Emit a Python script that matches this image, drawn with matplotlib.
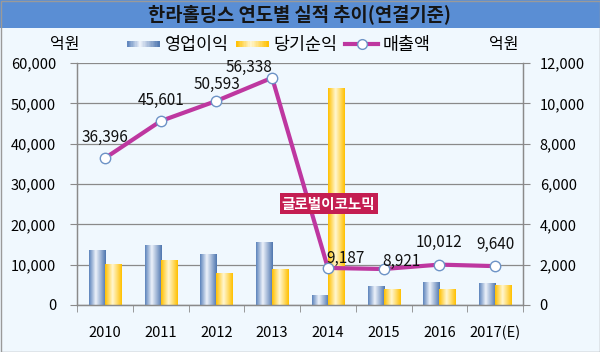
# plot.py
# 한라홀딩스 연도별 실적 추이 - bars (right axis) + sales line (left axis)

import numpy as np
import matplotlib.pyplot as plt
from matplotlib.colors import LinearSegmentedColormap
from matplotlib.patches import Rectangle
from matplotlib.legend_handler import HandlerBase
from matplotlib.lines import Line2D
from matplotlib.ticker import FuncFormatter

plt.rcParams['font.family'] = ['Noto Sans CJK KR', 'DejaVu Sans']

# data (억원)
years = ['2010', '2011', '2012', '2013', '2014', '2015', '2016', '2017(E)']
sales = [36396, 45601, 50593, 56338, 9187, 8921, 10012, 9640]
op_profit = [2730, 2980, 2530, 3120, 500, 940, 1160, 1090]
net_profit = [2030, 2230, 1600, 1790, 10750, 790, 790, 990]
labels_txt = ['36,396', '45,601', '50,593', '56,338', '9,187', '8,921', '10,012', '9,640']
# label offsets in pixels (dx, dy)
label_off = [(0, 21), (0, 21), (1, 16), (-23, 10), (18, 9), (18, 8), (0, 22), (0, 22)]

W, H = 600, 352
bg = '#F0F8FE'
grid_c = '#8A8A8A'

blue_cmap = LinearSegmentedColormap.from_list(
    'b', [(0, '#5D84BC'), (0.4, '#EDF2FA'), (1, '#4F77B0')])
yellow_cmap = LinearSegmentedColormap.from_list(
    'y', [(0, '#FFC000'), (0.45, '#FFF7D2'), (1, '#FFC000')])


class GradHandler(HandlerBase):
    def __init__(self, cmap):
        super().__init__()
        self.cmap = cmap

    def create_artists(self, legend, orig_handle, xdescent, ydescent,
                       width, height, fontsize, trans):
        n = 24
        h = height * 0.5
        y0 = -ydescent + (height - h) / 2
        arts = []
        for i in range(n):
            c = self.cmap((i + 0.5) / n)
            r = Rectangle((-xdescent + i * width / n, y0), width / n + 0.3, h,
                          facecolor=c, edgecolor='none', transform=trans)
            arts.append(r)
        return arts


fig = plt.figure(figsize=(W / 100, H / 100), dpi=100, facecolor=bg)

# header band
fig.add_artist(Rectangle((0, 1 - 28 / H), 1, 28 / H, transform=fig.transFigure,
                         facecolor='#5A8ED4', edgecolor='none', zorder=0))
fig.text(0.5, 1 - 14.5 / H, '한라홀딩스 연도별 실적 추이(연결기준)', ha='center', va='center',
         fontsize=13.5, fontweight='bold', color='#151515')
# outer border
fig.add_artist(Rectangle((0.5 / W, 0.5 / H), 1 - 1 / W, 1 - 1 / H, transform=fig.transFigure,
                         facecolor='none', edgecolor='#9A9A9A', lw=1, zorder=20))

ax = fig.add_axes([77 / W, 47 / H, 446 / W, 242 / H])
axb = ax.twinx()
ax.set_zorder(axb.get_zorder() + 1)
ax.patch.set_visible(False)
axb.patch.set_visible(False)

x = np.arange(len(years))
w = 0.287

# bars on right axis with gradient fill
grad = np.linspace(0, 1, 64).reshape(1, -1)
for vals, off, cmap in [(op_profit, -w / 2, blue_cmap), (net_profit, w / 2, yellow_cmap)]:
    bars = axb.bar(x + off, vals, w, facecolor='none', edgecolor='none', zorder=2)
    for b in bars:
        bx, bw, bh = b.get_x(), b.get_width(), b.get_height()
        im = axb.imshow(grad, extent=[bx, bx + bw, 0, bh], aspect='auto', cmap=cmap,
                        zorder=2, interpolation='bilinear')
        im.set_clip_path(b)

axb.set_ylim(0, 12000)
axb.set_yticks(np.arange(0, 12001, 2000))
axb.yaxis.grid(True, color=grid_c, lw=0.9)
axb.set_axisbelow(True)

# sales line on left axis
ax.plot(x, sales, color='#BE37A0', lw=3, marker='o', ms=7.5, mfc='white',
        mec='#6D93C6', mew=1, zorder=3)
for xi, yi, t, (dx, dy) in zip(x, sales, labels_txt, label_off):
    ax.annotate(t, (xi, yi), xytext=(dx, dy), textcoords='offset pixels',
                ha='center', va='center', fontsize=11, color='#111111', zorder=4)

ax.set_ylim(0, 60000)
ax.set_xlim(-0.5, len(years) - 0.5)
ax.set_yticks(np.arange(0, 60001, 10000))

fmt = FuncFormatter(lambda v, p: f'{v:,.0f}')
ax.yaxis.set_major_formatter(fmt)
axb.yaxis.set_major_formatter(fmt)

ax.set_xticks(x, years)
ax.set_xticks(np.arange(-0.5, len(years), 1), minor=True)
ax.tick_params(axis='x', which='major', length=0, pad=15, labelsize=10.5)
ax.tick_params(axis='x', which='minor', length=5, color=grid_c, direction='out')
ax.tick_params(axis='y', length=5, pad=10, labelsize=10.5, color=grid_c)
axb.tick_params(axis='y', length=5, pad=7, labelsize=10.5, color=grid_c)

for a in (ax, axb):
    a.spines['top'].set_visible(False)
    for s in ('left', 'right', 'bottom'):
        a.spines[s].set_color(grid_c)
        a.spines[s].set_linewidth(0.9)

# unit labels
fig.text(65 / W, 1 - 45 / H, '억원', ha='center', va='center', fontsize=11.5)
fig.text(504 / W, 1 - 45 / H, '억원', ha='center', va='center', fontsize=11.5)

# legend
p1 = Rectangle((0, 0), 1, 1)
p2 = Rectangle((0, 0), 1, 1)
l3 = Line2D([], [], color='#BE37A0', lw=3, marker='o', ms=7, mfc='white', mec='#6D93C6', mew=1)
fig.legend([p1, p2, l3], ['영업이익', '당기순익', '매출액'], loc='center',
           bbox_to_anchor=(279 / W, 1 - 45 / H), ncol=3, frameon=False, fontsize=12.5,
           handlelength=1.85, handletextpad=0.3, columnspacing=0.45,
           handler_map={p1: GradHandler(blue_cmap), p2: GradHandler(yellow_cmap)})

# watermark
fig.text(328.5 / W, 1 - 203.5 / H, '글로벌이코노믹', ha='center', va='center', fontsize=10.5,
         fontweight='bold', color='white', zorder=10,
         bbox=dict(boxstyle='square,pad=0.15', facecolor='#C41E52', edgecolor='none'))

fig.savefig('out.png', dpi=100, facecolor=fig.get_facecolor())
